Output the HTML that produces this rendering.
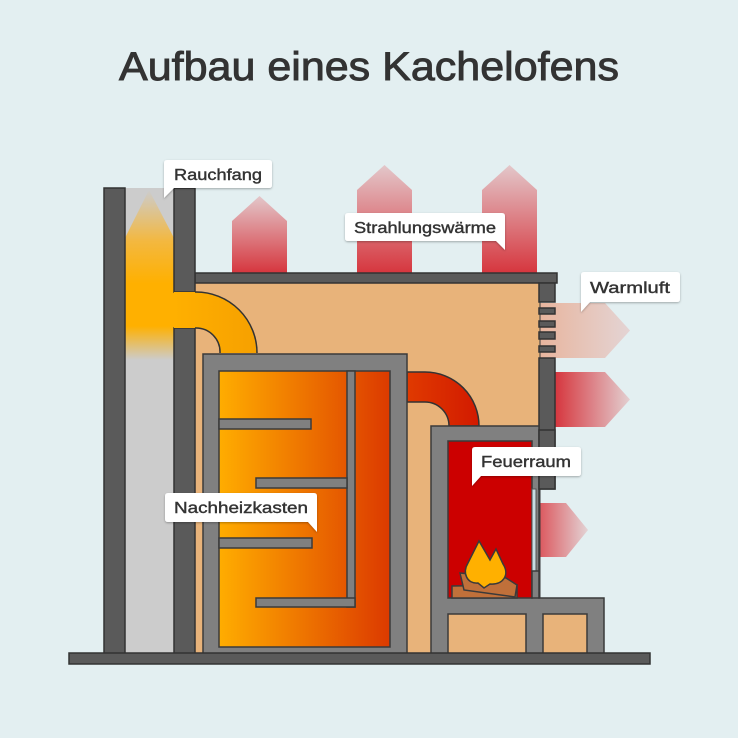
<!DOCTYPE html>
<html><head><meta charset="utf-8"><style>
html,body{margin:0;padding:0;background:#e3eff1;}
svg{display:block;}
text{font-family:"Liberation Sans","DejaVu Sans",sans-serif;fill:#333;}
</style></head><body>
<svg width="738" height="738" viewBox="0 0 738 738" xmlns="http://www.w3.org/2000/svg">
<defs>
<linearGradient id="up" x1="0" y1="1" x2="0" y2="0"><stop offset="0" stop-color="#d6363e"/><stop offset="1" stop-color="#e3c7ca"/></linearGradient>
<linearGradient id="rt" x1="0" y1="0" x2="1" y2="0"><stop offset="0" stop-color="#d6363e"/><stop offset="1" stop-color="#e3cfd1"/></linearGradient>
<linearGradient id="rt2" x1="0" y1="0" x2="1" y2="0"><stop offset="0" stop-color="#dc5a60"/><stop offset="1" stop-color="#e3d3d5"/></linearGradient>
<linearGradient id="pale" x1="0" y1="0" x2="1" y2="0"><stop offset="0" stop-color="#e8b59e"/><stop offset="1" stop-color="#e4d4d4"/></linearGradient>
<linearGradient id="smoke" x1="0" y1="0" x2="0" y2="1"><stop offset="0" stop-color="#ccc"/><stop offset="0.3" stop-color="#f3b840"/><stop offset="0.55" stop-color="#ffb000"/><stop offset="0.8" stop-color="#ffb000"/><stop offset="1" stop-color="#ccc"/></linearGradient>
<linearGradient id="box" x1="0" y1="0" x2="1" y2="0"><stop offset="0" stop-color="#ffad00"/><stop offset="1" stop-color="#dc3a00"/></linearGradient>
<linearGradient id="pipe1" x1="0" y1="0" x2="1" y2="0"><stop offset="0" stop-color="#ffb000"/><stop offset="1" stop-color="#f6a000"/></linearGradient>
<linearGradient id="pipe2" x1="0" y1="0" x2="1" y2="0"><stop offset="0" stop-color="#e03a00"/><stop offset="1" stop-color="#d21a00"/></linearGradient>
<filter id="sh" x="-10%" y="-20%" width="120%" height="150%"><feDropShadow dx="0" dy="1" stdDeviation="1" flood-color="#000" flood-opacity="0.3"/></filter>
</defs>

<text x="369" y="80" font-size="40" stroke="#333" stroke-width="0.9" text-anchor="middle" textLength="500" lengthAdjust="spacingAndGlyphs">Aufbau eines Kachelofens</text>

<!-- up arrows -->
<polygon points="232,273 232,221 259.5,196 287,221 287,273" fill="url(#up)"/>
<polygon points="357,273 357,190 384.5,165 412,190 412,273" fill="url(#up)"/>
<polygon points="482,273 482,190 509.5,165 537,190 537,273" fill="url(#up)"/>
<!-- right arrows -->
<polygon points="540,303 605,303 630,330.5 605,358 540,358" fill="url(#pale)"/>
<polygon points="555,372 605,372 630,399.5 605,427 555,427" fill="url(#rt)"/>
<polygon points="540,503 566,503 588,530 566,557 540,557" fill="url(#rt2)"/>

<!-- body -->
<rect x="195" y="283" width="345" height="372" fill="#e8b37a" stroke="#3a3a3a" stroke-width="1"/>
<rect x="195" y="273" width="362" height="10" fill="#5a5a5a" stroke="#333" stroke-width="1.5"/>

<!-- chimney -->
<rect x="125" y="188" width="49" height="467" fill="#cccccc"/>
<polygon points="125,238 149,190 174,238 174,360 125,360" fill="url(#smoke)"/>
<rect x="104" y="188" width="21" height="467" fill="#5a5a5a" stroke="#333" stroke-width="1.5"/>
<rect x="174" y="188" width="21" height="104" fill="#5a5a5a" stroke="#333" stroke-width="1.5"/>
<rect x="174" y="328" width="21" height="327" fill="#5a5a5a" stroke="#333" stroke-width="1.5"/>
<!-- yellow pipe -->
<path d="M174,292 L196,292 A61,61 0 0 1 257,353 L220,353 A24,24 0 0 0 196,328 L174,328 Z" fill="url(#pipe1)"/>
<path d="M195,292 L196,292 A61,61 0 0 1 257,353 M220,353 A24,24 0 0 0 196,328 L195,328" fill="none" stroke="#333" stroke-width="1.5"/>

<!-- red pipe -->
<path d="M407,372 L425,372 A54,54 0 0 1 479,426 L449,426 A24,24 0 0 0 425,402 L407,402 Z" fill="url(#pipe2)" stroke="#333" stroke-width="1.5"/>

<!-- Nachheizkasten -->
<rect x="203" y="354" width="204" height="304" fill="#808080" stroke="#3a3a3a" stroke-width="1.5"/>
<rect x="219" y="371" width="171" height="276" fill="url(#box)" stroke="#3a3a3a" stroke-width="1.5"/>
<g fill="#808080" stroke="#3a3a3a" stroke-width="1.5">
<rect x="347" y="371" width="8" height="236"/>
<rect x="219" y="419" width="92" height="10"/>
<rect x="256" y="478" width="91" height="10"/>
<rect x="219" y="538" width="93" height="10"/>
<rect x="256" y="598" width="99" height="9"/>
</g>
<rect x="220" y="420" width="3" height="8" fill="#808080"/>
<rect x="220" y="539" width="3" height="8" fill="#808080"/>

<!-- right wall & vents -->
<g fill="#5a5a5a" stroke="#333" stroke-width="1.5">
<rect x="539" y="283" width="16" height="19"/>
<rect x="539" y="308" width="16" height="6"/>
<rect x="539" y="321" width="16" height="6"/>
<rect x="539" y="332" width="16" height="7"/>
<rect x="539" y="346" width="16" height="6"/>
<rect x="539" y="358" width="16" height="131"/>
</g>

<!-- firebox -->
<path d="M431,426 L539,426 L539,598 L604,598 L604,655 L431,655 Z" fill="#808080" stroke="#3a3a3a" stroke-width="1.5"/>
<rect x="448" y="441" width="84" height="157" fill="#cc0000" stroke="#3a3a3a" stroke-width="1.5"/>
<rect x="532" y="489" width="4" height="82" fill="#c9dde3" stroke="#555" stroke-width="1"/>
<rect x="532" y="571" width="7" height="27" fill="#808080" stroke="#3a3a3a" stroke-width="1.5"/>
<rect x="539" y="430" width="16" height="59" fill="#5a5a5a" stroke="#333" stroke-width="1.5"/>
<rect x="448" y="614" width="78" height="41" fill="#e8b37a" stroke="#3a3a3a" stroke-width="1.5"/>
<rect x="543" y="614" width="44" height="41" fill="#e8b37a" stroke="#3a3a3a" stroke-width="1.5"/>
<!-- fire -->
<g stroke="#3a3a3a" stroke-width="1.5">
<polygon points="452,586 452,598 517,598 517,585" fill="#c0703a"/>
<polygon points="460,573 464,590 515,597 517,585 506,578" fill="#c0703a"/>
<path d="M479,541 L468,563 C462,573 467,584 478,583 L484,588 L490,584 C503,585 510,575 503,564 L496,549 L490,560 Z" fill="#ffb000"/>
</g>

<!-- floor -->
<rect x="69" y="653" width="581" height="11" fill="#5a5a5a" stroke="#333" stroke-width="1.5"/>

<!-- labels -->
<g filter="url(#sh)" fill="#fff">
<path d="M168,160 H269 Q272,160 272,163 V185 Q272,188 269,188 H174 L164,198 V163 Q164,160 167,160 Z"/>
<path d="M348,213 H502 Q505,213 505,216 V250 L496,241 H348 Q345,241 345,238 V216 Q345,213 348,213 Z"/>
<path d="M584,272 H677 Q680,272 680,275 V299 Q680,302 677,302 H590 L581,312 V275 Q581,272 584,272 Z"/>
<path d="M475,447 H578 Q581,447 581,450 V473 Q581,476 578,476 H481 L472,486 V450 Q472,447 475,447 Z"/>
<path d="M168,493 H314 Q317,493 317,496 V532 L308,522 H168 Q165,522 165,519 V496 Q165,493 168,493 Z"/>
</g>
<g font-size="16" stroke="#333" stroke-width="0.4">
<text x="218" y="180" text-anchor="middle" textLength="88" lengthAdjust="spacingAndGlyphs">Rauchfang</text>
<text x="425" y="233" text-anchor="middle" textLength="142" lengthAdjust="spacingAndGlyphs">Strahlungswärme</text>
<text x="630" y="293" text-anchor="middle" textLength="80" lengthAdjust="spacingAndGlyphs">Warmluft</text>
<text x="526" y="467" text-anchor="middle" textLength="90" lengthAdjust="spacingAndGlyphs">Feuerraum</text>
<text x="241" y="513" text-anchor="middle" textLength="134" lengthAdjust="spacingAndGlyphs">Nachheizkasten</text>
</g>
</svg>
</body></html>
